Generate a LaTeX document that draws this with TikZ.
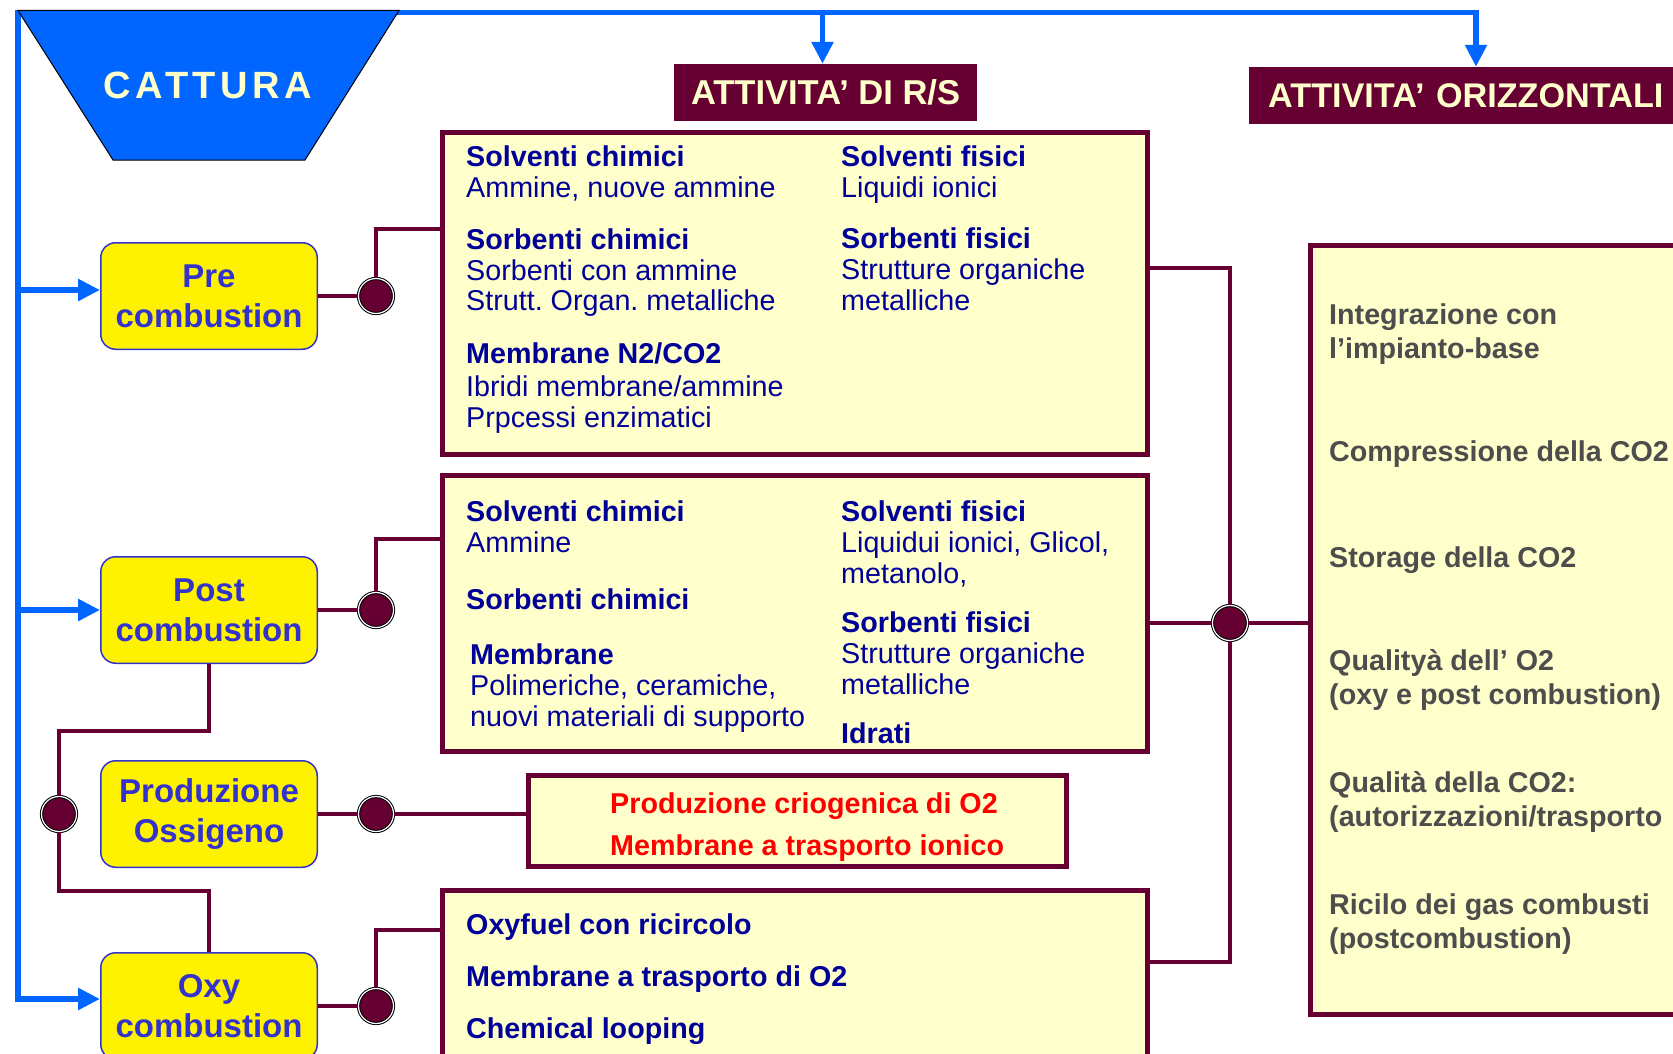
\documentclass[tikz,border=0pt]{standalone}
\usepackage{fontspec}
\setmainfont{Liberation Sans}
\usetikzlibrary{arrows.meta}
\definecolor{azure}{HTML}{0066FF}
\definecolor{wine}{HTML}{660033}
\definecolor{cream}{HTML}{FFFFCC}
\definecolor{navy}{HTML}{000099}
\definecolor{boxblue}{HTML}{3333CC}
\definecolor{slate}{HTML}{4D4D4D}
\frenchspacing
\begin{document}
\begin{tikzpicture}[x=1pt,y=-1pt]
  \tikzstyle{flow}=[draw=azure,line width=5.5pt,-{Triangle[length=22pt,width=21pt]}]
  \tikzstyle{link}=[draw=wine,line width=4.5pt]
  \tikzstyle{phase}=[rectangle,rounded corners=15pt,fill=yellow,draw=boxblue,line width=1.5pt,minimum width=216.5pt,minimum height=106.5pt,align=center,text=boxblue,font=\bfseries\fontsize{33}{40}\selectfont]
  \tikzstyle{panel}=[rectangle,fill=cream,draw=wine,line width=5pt]
  \tikzstyle{tag}=[rectangle,fill=wine,text=cream,minimum height=57pt,font=\bfseries\fontsize{34.5}{36}\selectfont]
  \tikzstyle{joint}=[circle,inner sep=0,minimum size=35pt,fill=wine,draw=black,line width=1pt,double=white,double distance=1.2pt]
  \tikzstyle{txt}=[inner sep=0,anchor=north west,align=left,text=navy,font=\fontsize{28.7}{31}\selectfont]
  \tikzstyle{hnote}=[txt,text=slate,font=\bfseries\fontsize{28.7}{34}\selectfont]

  \useasboundingbox (0,0) rectangle (1673,1054);
  \clip (0,0) rectangle (1673,1054);
  \fill[white] (0,0) rectangle (1673,1054);

  % cattura side
  \coordinate (corner) at (18,12.5);
  \node[phase] (pre) at (209,296) {Pre\\combustion};
  \node[phase] (post) at (209,610) {Post\\combustion};
  \node[phase] (prod) at (209,814) {Produzione\\Ossigeno};
  \node[phase] (oxy) at (209,1006) {Oxy\\combustion};

  % headers
  \node[tag,minimum width=303pt] (rs) at (825.5,92.5) {ATTIVITA’ DI R/S};
  \node[tag,anchor=west,inner xsep=19pt,text width=441pt,align=left,font=\bfseries\fontsize{34.2}{36}\selectfont] (oriz) at (1249,95.5) {ATTIVITA’ ORIZZONTALI};

  % panels
  \node[panel,minimum width=705pt,minimum height=322pt] (rs1) at (795,293.5) {};
  \node[panel,minimum width=705pt,minimum height=276pt] (rs2) at (795,613.5) {};
  \node[panel,minimum width=538pt,minimum height=91pt] (rs3) at (797.5,821) {};
  \node[panel,minimum width=705pt,minimum height=189.5pt] (rs4) at (795,985.25) {};
  \node[panel,minimum width=420pt,minimum height=769pt] (hbox) at (1520.5,630) {};

  % panel texts
  \node[txt] (rs1a) at (466,146) {\textbf{Solventi chimici}\\Ammine, nuove ammine\\[20pt]\textbf{Sorbenti chimici}\\Sorbenti con ammine\\Strutt. Organ. metalliche\\[22pt]\textbf{Membrane N2/CO2}\\[1pt]Ibridi membrane/ammine\\[1pt]Prpcessi enzimatici};
  \node[txt] (rs1b) at (841,146) {\textbf{Solventi fisici}\\Liquidi ionici\\[20pt]\textbf{Sorbenti fisici}\\Strutture organiche\\metalliche};
  \node[txt] (rs2a) at (466,500) {\textbf{Solventi chimici}\\Ammine\\[26pt]\textbf{Sorbenti chimici}};
  \node[txt] (rs2b) at (470,643) {\textbf{Membrane}\\Polimeriche, ceramiche,\\nuovi materiali di supporto};
  \node[txt] (rs2c) at (841,500) {\textbf{Solventi fisici}\\Liquidui ionici, Glicol,\\metanolo,\\[18pt]\textbf{Sorbenti fisici}\\Strutture organiche\\metalliche\\[18pt]\textbf{Idrati}};
  \node[txt,text=red,font=\bfseries\fontsize{28.7}{42}\selectfont] (rs3a) at (610,792) {Produzione criogenica di O2\\Membrane a trasporto ionico};
  \node[txt,font=\bfseries\fontsize{28.7}{31}\selectfont] (rs4a) at (466,913) {Oxyfuel con ricircolo\\[21pt]Membrane a trasporto di O2\\[21pt]Chemical looping};

  \node[hnote] (h1) at (1329,304) {Integrazione con\\l’impianto-base};
  \node[hnote] (h2) at (1329,440) {Compressione della CO2};
  \node[hnote] (h3) at (1329,546) {Storage della CO2};
  \node[hnote] (h4) at (1329,649) {Qualityà dell’ O2\\(oxy e post combustion)};
  \node[hnote] (h5) at (1329,771) {Qualità della CO2:\\(autorizzazioni/trasporto};
  \node[hnote] (h6) at (1329,893) {Ricilo dei gas combusti\\(postcombustion)};

  % junctions
  \node[joint] (predot) at (376,296) {};
  \node[joint] (postdot) at (376,610) {};
  \node[joint] (proddot) at (376,814) {};
  \node[joint] (oxydot) at (376,1006) {};
  \node[joint] (chaindot) at (59,814) {};
  \node[joint] (rightdot) at (1230,623) {};

  % wine connectors
  \draw[link] (pre) -- (predot);
  \draw[link] (predot) |- ([yshift=64.5pt]rs1.west);
  \draw[link] (post) -- (postdot);
  \draw[link] (postdot) |- ([yshift=74.5pt]rs2.west);
  \draw[link] (prod) -- (proddot);
  \draw[link] (proddot) -- (proddot -| rs3.west);
  \draw[link] (oxy) -- (oxydot);
  \draw[link] (oxydot) |- ([yshift=55.25pt]rs4.west);
  \draw[link] (post.south) -- ++(0,67) -| (chaindot);
  \draw[link] (oxy.north) -- ++(0,-61) -| (chaindot);
  \draw[link] ([yshift=25.5pt]rs1.east) -| (rightdot);
  \draw[link] ([yshift=23.25pt]rs4.east) -| (rightdot);
  \draw[link] (rightdot -| rs2.east) -- (rightdot);
  \draw[link] (rightdot) -- (rightdot -| hbox.west);

  % blue flow
  \coordinate (orizin) at (1476,0);
  \draw[flow,{Triangle[length=22pt,width=21pt]}-{Triangle[length=22pt,width=21pt]}] ([yshift=7pt]oxy.west) -| (corner) -| (orizin |- oriz.north);
  \draw[flow] (corner) |- ([yshift=6pt]pre.west);
  \draw[flow] (corner) |- (post.west);
  \draw[flow] (corner) -| ([xshift=-3pt]rs.north);

  \filldraw[fill=azure,draw=black,line width=1pt] (18,10.5) -- (399,10.5) -- (305,160) -- (113,160) -- cycle;
  \node[text=cream,font=\bfseries\fontsize{38}{40}\selectfont\addfontfeature{LetterSpace=12}] (cattura) at (208,85) {CATTURA};
\end{tikzpicture}
\end{document}
